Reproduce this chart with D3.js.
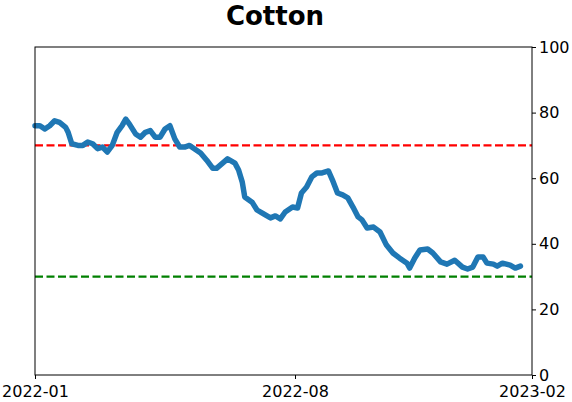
<!DOCTYPE html>
<html>
<head>
<meta charset="utf-8">
<script src="https://cdn.jsdelivr.net/npm/d3@7"></script>
<style>
  body { margin: 0; background: #fff; }
  text { font-family: "DejaVu Sans", sans-serif; }
</style>
</head>
<body>
<div id="chart"></div>
<script>
// Data
const dates = [
  "2022-01-01", "2022-01-05", "2022-01-09", "2022-01-13", "2022-01-17", "2022-01-21",
  "2022-01-26", "2022-01-28", "2022-01-31", "2022-02-05", "2022-02-09", "2022-02-13",
  "2022-02-17", "2022-02-21", "2022-02-25", "2022-03-01", "2022-03-05", "2022-03-09",
  "2022-03-13", "2022-03-16", "2022-03-19", "2022-03-24", "2022-03-28", "2022-04-01",
  "2022-04-05", "2022-04-09", "2022-04-13", "2022-04-17", "2022-04-21", "2022-04-25",
  "2022-04-29", "2022-05-03", "2022-05-07", "2022-05-16", "2022-05-21", "2022-05-26",
  "2022-05-29", "2022-06-07", "2022-06-13", "2022-06-16", "2022-06-19", "2022-06-21",
  "2022-06-27", "2022-07-01", "2022-07-05", "2022-07-12", "2022-07-16", "2022-07-20",
  "2022-07-24", "2022-07-30", "2022-08-03", "2022-08-06", "2022-08-10", "2022-08-14",
  "2022-08-18", "2022-08-22", "2022-08-27", "2022-08-30", "2022-09-03", "2022-09-07",
  "2022-09-11", "2022-09-15", "2022-09-19", "2022-09-22", "2022-09-26", "2022-10-01",
  "2022-10-06", "2022-10-11", "2022-10-16", "2022-10-21", "2022-10-27", "2022-10-29",
  "2022-11-02", "2022-11-06", "2022-11-12", "2022-11-16", "2022-11-22", "2022-11-27",
  "2022-12-03", "2022-12-09", "2022-12-13", "2022-12-17", "2022-12-21", "2022-12-25",
  "2022-12-28", "2023-01-02", "2023-01-05", "2023-01-09", "2023-01-15", "2023-01-19",
  "2023-01-23"
];
const values = [
  76, 76, 75, 76, 77.5, 77,
  75.5, 74, 70.5, 70, 70, 71,
  70.5, 69, 69.5, 68, 70, 74,
  76, 78, 76.5, 73.5, 72.5, 74,
  74.5, 72.5, 72.5, 75, 76, 72,
  69.5, 69.5, 70, 67.7, 65.5, 63,
  63, 65.9, 64.6, 62.5, 58.8, 54.3,
  52.7, 50.3, 49.4, 47.9, 48.5, 47.6,
  49.7, 51.2, 50.9, 55.5, 57.3, 60.4,
  61.6, 61.6, 62.2, 59.5, 55.5, 54.9,
  54, 51.2, 48.2, 47.3, 44.8, 45.1,
  43.6, 39.6, 37.2, 35.7, 34.1, 32.6,
  35.7, 38.1, 38.4, 37.2, 34.5, 33.8,
  35, 32.9, 32.3, 32.9, 36, 36,
  34.1, 33.8, 33.2, 34.1, 33.5, 32.6,
  33.2
];
const xTicks = ["2022-01-01", "2022-08-01", "2023-02-01"];
const yTicks = [0, 20, 40, 60, 80, 100];
const upperLevel = 70;
const lowerLevel = 30;

const parseDate = d3.timeParse("%Y-%m-%d");
const data = dates.map((d, i) => ({ date: parseDate(d), value: values[i] }));

const width = 572;
const height = 402;
const margin = { top: 47, right: 40, bottom: 27, left: 35 };

const svg = d3.select("#chart")
  .append("svg")
  .attr("width", width)
  .attr("height", height);

// x axis spaced like the source (ticks not evenly spaced in calendar time)
const xScale = d3.scaleTime()
  .domain(xTicks.map(parseDate))
  .range([margin.left, 295, width - margin.right]);

const yScale = d3.scaleLinear()
  .domain([0, 100])
  .range([height - margin.bottom, margin.top]);

// Threshold lines
svg.append("line")
  .attr("x1", margin.left).attr("x2", width - margin.right)
  .attr("y1", yScale(upperLevel)).attr("y2", yScale(upperLevel))
  .attr("stroke", "#ff0000").attr("stroke-width", 2.2)
  .attr("stroke-dasharray", "8,3.5");

svg.append("line")
  .attr("x1", margin.left).attr("x2", width - margin.right)
  .attr("y1", yScale(lowerLevel)).attr("y2", yScale(lowerLevel))
  .attr("stroke", "#008000").attr("stroke-width", 2.2)
  .attr("stroke-dasharray", "8,3.5");

// Main line
const line = d3.line()
  .x(d => xScale(d.date))
  .y(d => yScale(d.value));

svg.append("path")
  .datum(data)
  .attr("fill", "none")
  .attr("stroke", "#1f77b4")
  .attr("stroke-width", 5.5)
  .attr("stroke-linejoin", "round")
  .attr("stroke-linecap", "round")
  .attr("d", line);

// Frame
svg.append("rect")
  .attr("x", margin.left)
  .attr("y", margin.top)
  .attr("width", width - margin.left - margin.right)
  .attr("height", height - margin.top - margin.bottom)
  .attr("fill", "none")
  .attr("stroke", "black")
  .attr("stroke-width", 1);

// Bottom axis
const xAxis = svg.append("g")
  .attr("transform", `translate(0, ${height - margin.bottom})`)
  .call(d3.axisBottom(xScale)
    .tickValues(xTicks.map(parseDate))
    .tickFormat(d3.timeFormat("%Y-%m"))
    .tickSize(4)
    .tickPadding(7));
xAxis.select(".domain").remove();
xAxis.selectAll("text")
  .attr("font-size", 16)
  .attr("fill", "black")
  .style("font-family", "DejaVu Sans");

// Right axis
const yAxis = svg.append("g")
  .attr("transform", `translate(${width - margin.right}, 0)`)
  .call(d3.axisRight(yScale)
    .tickValues(yTicks)
    .tickSize(4)
    .tickPadding(3));
yAxis.select(".domain").remove();
yAxis.selectAll("text")
  .attr("font-size", 16)
  .attr("fill", "black")
  .style("font-family", "DejaVu Sans");

// Title
svg.append("text")
  .attr("x", 275)
  .attr("y", 25)
  .attr("text-anchor", "middle")
  .attr("font-size", 26)
  .attr("font-weight", "bold")
  .attr("fill", "black")
  .text("Cotton");
</script>
</body>
</html>
